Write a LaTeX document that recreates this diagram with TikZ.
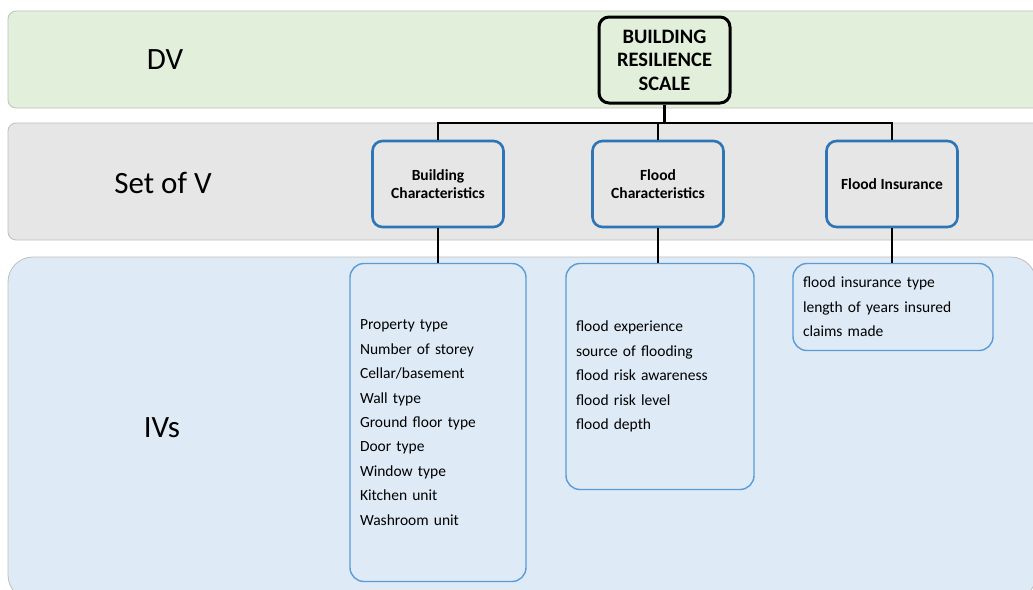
\documentclass[tikz,border=0pt]{standalone}
\usepackage{fontspec}
\setmainfont{Carlito}
\usepackage{xcolor}
\usetikzlibrary{positioning}
\definecolor{dvgreen}{HTML}{E2EFDA}
\definecolor{setgray}{HTML}{E6E6E6}
\definecolor{ivblue}{HTML}{DEEAF6}
\definecolor{bandline}{HTML}{BFBFBF}
\definecolor{boxblue}{HTML}{2E75B6}
\definecolor{listblue}{HTML}{5B9BD5}

\begin{document}
\begin{tikzpicture}[x=1pt,y=-1pt,
    band/.style={draw=bandline,line width=0.8pt},
    bandlabel/.style={font=\fontsize{31}{37}\selectfont},
    scalebox/.style={draw=black,line width=3pt,rounded corners=10pt,fill=dvgreen,
        minimum width=131pt,minimum height=86pt,align=center,
        font=\fontsize{20.5}{23.5}\selectfont\bfseries},
    setbox/.style={draw=boxblue,line width=2.6pt,rounded corners=10pt,fill=setgray,
        minimum width=131pt,minimum height=86pt,align=center,
        font=\fontsize{15.5}{18}\selectfont\bfseries},
    listbox/.style={draw=listblue,line width=1.4pt,rounded corners=14pt,fill=ivblue,
        inner xsep=10pt,inner ysep=0pt,align=left,font=\fontsize{15.5}{24.4}\selectfont},
    link/.style={line width=2.8pt}]
\clip (0,0) rectangle (1033,589);

% bands
\path[band,fill=dvgreen,rounded corners=8pt] (8,11) rectangle (1045,108);
\path[band,fill=setgray,rounded corners=8pt] (8,123) rectangle (1045,240);
\path[band,fill=ivblue,rounded corners=25pt] (8,257) rectangle (1036,600);

\node[bandlabel] (dv) at (165,60) {DV};
\node[bandlabel] (setv) at (163,183) {Set of V};
\node[bandlabel] (ivs) at (162,428) {IVs};

% dependent variable
\node[scalebox] (brs) at (664.5,60) {BUILDING\\RESILIENCE\\SCALE};

% set of variables
\node[setbox] (bchar) at (438,184) {Building\\Characteristics};
\node[setbox] (fchar) at (658,184) {Flood\\Characteristics};
\node[setbox] (fins) at (892,184) {Flood Insurance};

% independent variables
\node[listbox,text width=156pt,minimum height=318pt] (bcl) at (438,422.5)
    {Property type\\Number of storey\\Cellar/basement\\Wall type\\Ground floor type\\Door type\\Window type\\Kitchen unit\\Washroom unit};
\node[listbox,text width=168pt,minimum height=226pt] (fcl) at (660,376.5)
    {flood experience\\source of flooding\\flood risk awareness\\flood risk level\\flood depth};
\node[listbox,text width=180pt,minimum height=87pt] (fil) at (893,307)
    {flood insurance type\\length of years insured\\claims made};

\coordinate (bus) at (664.5,123);
\draw[link] (brs.south) -- (bus);
\draw[link] (bchar.north) |- (bus) -| (fins.north);
\draw[link] (fchar.north) -- (fchar.north |- bus);

\draw[link] (bchar.south) -- (bcl.north);
\draw[link] (fchar.south) -- (fchar.south |- fcl.north);
\draw[link] (fins.south) -- (fins.south |- fil.north);
\end{tikzpicture}
\end{document}
